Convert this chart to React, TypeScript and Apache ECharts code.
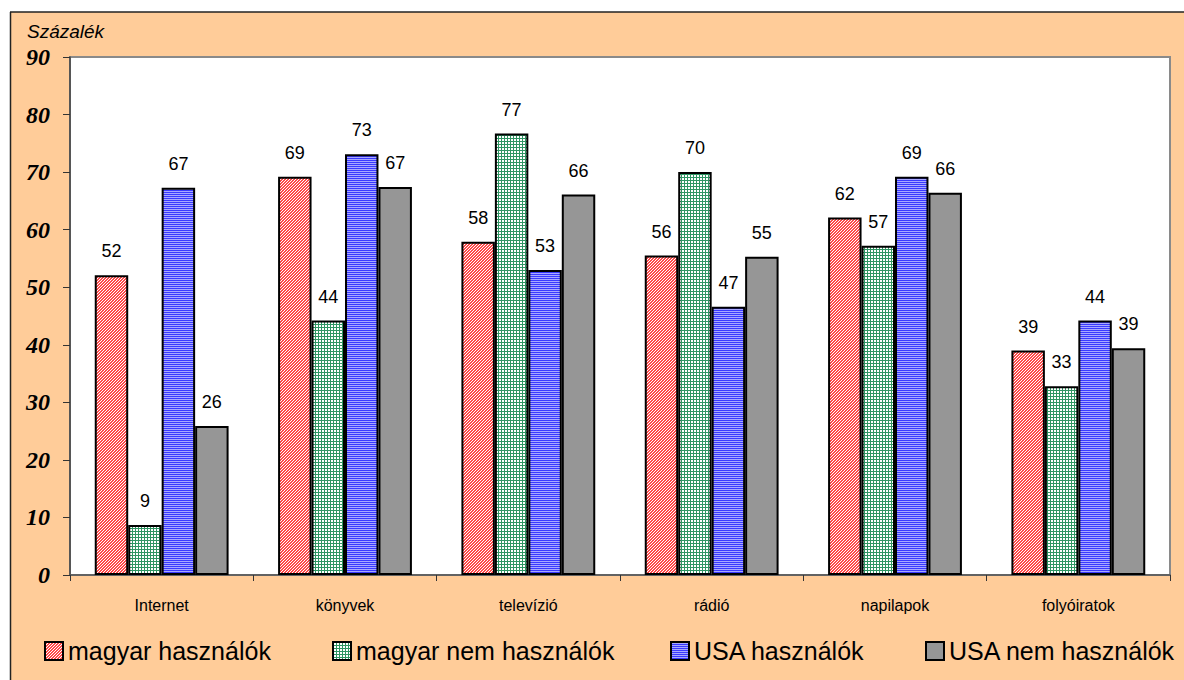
import React, { useEffect, useRef } from "react";
import * as echarts from "echarts";

const categories = ["Internet", "könyvek", "televízió", "rádió", "napilapok", "folyóiratok"];
const seriesNames = ["magyar használók", "magyar nem használók", "USA használók", "USA nem használók"];
const magyarHasznalok = [52.1, 69.2, 57.9, 55.5, 62.1, 39.0];
const magyarNemHasznalok = [8.7, 44.2, 76.7, 70.0, 57.2, 32.8];
const usaHasznalok = [67.3, 73.1, 53.0, 46.6, 69.2, 44.2];
const usaNemHasznalok = [25.9, 67.4, 66.1, 55.3, 66.4, 39.4];
const yTicks = [0, 10, 20, 30, 40, 50, 60, 70, 80, 90];

function makePattern(kind: string): HTMLCanvasElement {
  const c = document.createElement("canvas");
  const ctx = c.getContext("2d")!;
  if (kind === "red") {
    c.width = 3; c.height = 3;
    ctx.fillStyle = "#ffffff"; ctx.fillRect(0, 0, 3, 3);
    ctx.fillStyle = "#ff4a4a";
    for (let x = 0; x < 3; x++) for (let y = 0; y < 3; y++) {
      if ((x + y) % 3 !== 0) ctx.fillRect(x, y, 1, 1);
    }
  } else if (kind === "green") {
    c.width = 3; c.height = 3;
    ctx.fillStyle = "#ffffff"; ctx.fillRect(0, 0, 3, 3);
    ctx.fillStyle = "#2f9563";
    ctx.fillRect(0, 0, 3, 1);
    ctx.fillRect(0, 0, 1, 3);
  } else {
    c.width = 2; c.height = 2;
    ctx.fillStyle = "#3a3aff"; ctx.fillRect(0, 0, 2, 1);
    ctx.fillStyle = "#a8a8ff"; ctx.fillRect(0, 1, 2, 1);
  }
  return c;
}

export default function App() {
  const ref = useRef<HTMLDivElement>(null);
  useEffect(() => {
    document.body.style.margin = "0";
    const chart = echarts.init(ref.current!, null, { renderer: "svg" });
    const fills: any[] = [
      { image: makePattern("red"), repeat: "repeat" },
      { image: makePattern("green"), repeat: "repeat" },
      { image: makePattern("blue"), repeat: "repeat" },
      "#969696",
    ];
    const values = [magyarHasznalok, magyarNemHasznalok, usaHasznalok, usaNemHasznalok];
    const legendLefts = [44, 332, 670, 925];
    const font = "'Liberation Sans', Arial, sans-serif";
    const option: any = {
      animation: false,
      backgroundColor: "#FFCC99",
      graphic: [
        { type: "rect", shape: { x: 0, y: 0, width: 1184, height: 12 }, style: { fill: "#ffffff" }, silent: true },
        { type: "rect", shape: { x: 0, y: 0, width: 10, height: 680 }, style: { fill: "#ffffff" }, silent: true },
        { type: "line", shape: { x1: 10, y1: 12, x2: 1184, y2: 12 }, style: { stroke: "#222", lineWidth: 1.5 }, silent: true },
        { type: "line", shape: { x1: 10.5, y1: 12, x2: 10.5, y2: 680 }, style: { stroke: "#222", lineWidth: 1.5 }, silent: true },
        {
          type: "text", x: 27, y: 31,
          style: { text: "Százalék", fontFamily: font, fontStyle: "italic", fontSize: 19, fill: "#000", textVerticalAlign: "middle" },
        },
      ],
      grid: {
        left: 70, right: 14, top: 57, bottom: 105,
        show: true, backgroundColor: "#ffffff", borderColor: "#8a8a8a", borderWidth: 2,
      },
      legend: seriesNames.map((n, i) => ({
        data: [n],
        left: legendLefts[i],
        top: 638,
        padding: 0,
        itemWidth: 18,
        itemHeight: 18,
        icon: "rect",
        itemStyle: { borderColor: "#000", borderWidth: 2 },
        textStyle: { fontFamily: font, fontSize: 25, color: "#000", lineHeight: 26 },
        selectedMode: false,
      })),
      xAxis: {
        type: "category",
        data: categories,
        axisLine: { show: true, lineStyle: { color: "#555", width: 1.5 } },
        axisTick: { show: true, length: 6, lineStyle: { color: "#333" } },
        axisLabel: { fontFamily: font, fontSize: 16, color: "#000", margin: 22 },
      },
      yAxis: {
        type: "value",
        min: yTicks[0],
        max: yTicks[yTicks.length - 1],
        interval: 10,
        splitLine: { show: false },
        axisLine: { show: true, lineStyle: { color: "#444", width: 1.5 } },
        axisTick: { show: true, length: 7, lineStyle: { color: "#333" } },
        axisLabel: {
          fontFamily: "'Liberation Serif', 'Times New Roman', serif",
          fontStyle: "italic", fontWeight: "bold", fontSize: 24, color: "#000", margin: 20,
        },
      },
      series: seriesNames.map((n, i) => ({
        name: n,
        type: "bar",
        data: values[i],
        barGap: "0%",
        barCategoryGap: "27%",
        itemStyle: { color: fills[i], borderColor: "#000", borderWidth: 2 },
        label: {
          show: true,
          position: "top",
          distance: 15,
          fontFamily: font,
          fontSize: 18,
          color: "#000",
          formatter: (p: any) => String(Math.round(p.value)),
        },
      })),
    };
    chart.setOption(option);
    return () => chart.dispose();
  }, []);
  return <div ref={ref} style={{ width: 1184, height: 680 }} />;
}
